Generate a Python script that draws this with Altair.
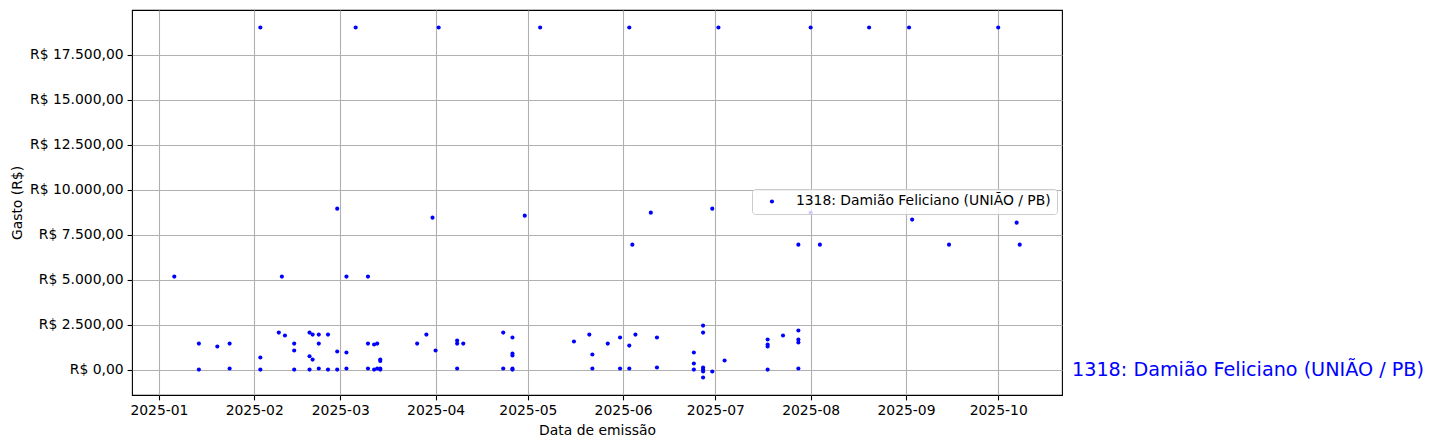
import altair as alt
import pandas as pd

# ---- data ----
datas = [
    "2025-01-06", "2025-01-14", "2025-01-20", "2025-01-24", "2025-02-03",
    "2025-02-09", "2025-02-10", "2025-02-11", "2025-02-14", "2025-02-19",
    "2025-02-20", "2025-02-22", "2025-02-25", "2025-02-28", "2025-03-03",
    "2025-03-06", "2025-03-10", "2025-03-12", "2025-03-13", "2025-03-14",
    "2025-03-26", "2025-03-29", "2025-03-31", "2025-04-01", "2025-04-02",
    "2025-04-08", "2025-04-10", "2025-04-23", "2025-04-26", "2025-04-30",
    "2025-05-05", "2025-05-16", "2025-05-21", "2025-05-22", "2025-05-27",
    "2025-05-31", "2025-06-03", "2025-06-04", "2025-06-05", "2025-06-10",
    "2025-06-12", "2025-06-24", "2025-06-27", "2025-06-30", "2025-07-02",
    "2025-07-04", "2025-07-18", "2025-07-23", "2025-07-28", "2025-08-01",
    "2025-08-04", "2025-08-20", "2025-09-02", "2025-09-03", "2025-09-15",
    "2025-10-01", "2025-10-07", "2025-10-08",
]
gastos = [
    [5180], [1460, 20], [1300], [1460, 80], [19000, 690, 20],
    [2070], [5180], [1910], [1460, 1075, 20], [2070, 760, 20],
    [1960, 575], [1960, 1460, 80], [1960, 20], [8950, 1020, 20], [5180, 965, 80],
    [19000], [5180, 1460, 80], [1410, 20], [1460, 80], [575, 500, 80, 20],
    [1460], [1960], [8450], [1075], [19000],
    [1630, 1460, 80], [1460], [2070, 80], [1800, 910, 800, 80, 20], [8560],
    [19000], [1575], [1960], [855, 80], [1460],
    [1800, 80], [19000, 1350, 80], [6950], [1960], [8725],
    [1800, 135], [965, 355, 20], [2460, 2070, 135, 20, -90, -420], [8950, -90], [19000],
    [520], [1685, 1410, 1300, 20], [1910], [6950, 2185, 1685, 1520, 80], [19000, 8725],
    [6950], [19000], [19000], [8340], [6950],
    [19000], [8170], [6950],
]
deputado = "1318: Damião Feliciano (UNIÃO / PB)"
y_ticks = [0, 2500, 5000, 7500, 10000, 12500, 15000, 17500]
x_tick_months = list(range(1, 11))

rows = []
for d, vals in zip(datas, gastos):
    for v in vals:
        rows.append({"data": d, "valor": v, "deputado": deputado})
df = pd.DataFrame(rows)
lab = pd.DataFrame([{"valor": 0, "texto": deputado}])

FONT = "DejaVu Sans"
FS = 13.9

y_scale = alt.Scale(domain=[-1391, 19971], nice=False, zero=False)
x_scale = alt.Scale(
    type="utc",
    nice=False,
    domain=[
        alt.DateTime(year=2024, month=12, date=23, hours=6, utc=True),
        alt.DateTime(year=2025, month=10, date=21, hours=18, utc=True),
    ],
)

brl = ("'R$ ' + replace(replace(replace(format(datum.value, ',.2f'), ',', '_'), '.', ','), '_', '.')")


def y_enc():
    return alt.Y(
        "valor:Q",
        scale=y_scale,
        title="Gasto (R$)",
        axis=alt.Axis(values=y_ticks, labelExpr=brl),
    )


points = alt.Chart(df).mark_circle(size=17, opacity=1).encode(
    x=alt.X(
        "data:T",
        scale=x_scale,
        title="Data de emissão",
        axis=alt.Axis(
            values=[alt.DateTime(year=2025, month=m, date=1, utc=True) for m in x_tick_months],
            format="%Y-%m",
        ),
    ),
    y=y_enc(),
    color=alt.Color(
        "deputado:N",
        scale=alt.Scale(range=["#0000ff"]),
        legend=alt.Legend(
            title=None,
            orient="none",
            legendX=620,
            legendY=179,
            fillColor="rgba(255,255,255,0.8)",
            strokeColor="#cccccc",
            padding=5.5,
            cornerRadius=3,
            symbolType="circle",
            symbolSize=17,
            symbolStrokeWidth=0,
            symbolOffset=7.5,
            labelOffset=17,
            labelLimit=0,
            labelFont=FONT,
            labelFontSize=FS,
            labelColor="black",
        ),
    ),
)

label = alt.Chart(lab).mark_text(
    align="left", baseline="middle", fontSize=19.2, font=FONT, color="#0000ff"
).encode(
    x=alt.value(940),
    y=y_enc(),
    text="texto:N",
)

chart = alt.layer(points, label).properties(
    width=930,
    height=385,
    autosize=alt.AutoSizeParams(type="none"),
    padding={"left": 124, "top": 2, "right": 367, "bottom": 45},
).configure(
    font=FONT
).configure_view(
    stroke="black", strokeWidth=1.1
).configure_axis(
    labelFont=FONT,
    labelFontSize=FS,
    labelColor="black",
    titleFont=FONT,
    titleFontSize=FS,
    titleFontWeight="normal",
    titleColor="black",
    grid=True,
    gridColor="#b0b0b0",
    gridWidth=1.1,
    domain=False,
    tickColor="black",
    tickWidth=1.1,
    tickSize=4.9,
    labelPadding=4,
    titlePadding=5.5,
    labelFlush=False,
    labelOverlap=False,
)

chart.save("out.html", embed_options={"renderer": "svg", "actions": False})
